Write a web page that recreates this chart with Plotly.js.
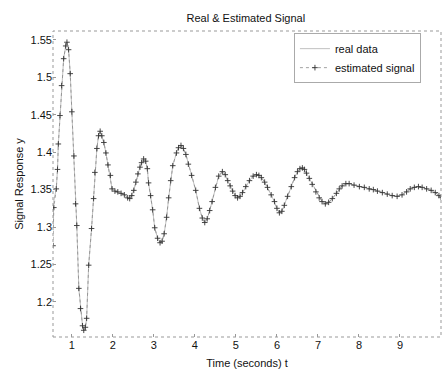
<!DOCTYPE html>
<html><head><meta charset="utf-8">
<script src="https://cdn.plot.ly/plotly-3.0.1.min.js"></script>
<style>html,body{margin:0;padding:0;background:#fff}#chart{width:443px;height:372px}</style>
</head><body><div id="chart"></div>
<script>
const time = [0.54,0.56,0.62,0.65,0.67,0.71,0.75,0.80,0.85,0.88,0.92,0.96,1.00,1.05,1.09,1.12,1.17,1.21,1.26,1.29,1.33,1.36,1.41,1.48,1.53,1.56,1.61,1.65,1.69,1.73,1.78,1.83,1.88,1.94,1.98,2.05,2.12,2.20,2.28,2.36,2.41,2.46,2.51,2.56,2.61,2.66,2.70,2.75,2.80,2.84,2.87,2.92,2.97,3.02,3.09,3.15,3.20,3.25,3.31,3.36,3.41,3.46,3.55,3.60,3.66,3.72,3.78,3.84,3.92,4.02,4.11,4.18,4.24,4.30,4.36,4.42,4.50,4.58,4.67,4.74,4.80,4.86,4.92,4.98,5.04,5.10,5.16,5.24,5.33,5.42,5.50,5.56,5.62,5.70,5.77,5.86,5.94,6.00,6.06,6.12,6.18,6.26,6.35,6.43,6.50,6.56,6.62,6.67,6.72,6.79,6.86,6.95,7.03,7.10,7.18,7.26,7.35,7.45,7.52,7.59,7.68,7.76,7.88,8.01,8.13,8.25,8.35,8.45,8.57,8.69,8.81,8.93,9.05,9.16,9.25,9.35,9.45,9.54,9.65,9.76,9.86,9.95,10.0];
const estimatedSignal = [1.275,1.326,1.351,1.377,1.411,1.449,1.489,1.525,1.542,1.547,1.537,1.505,1.454,1.395,1.331,1.302,1.218,1.191,1.168,1.162,1.166,1.178,1.249,1.298,1.338,1.373,1.405,1.422,1.428,1.422,1.413,1.399,1.383,1.369,1.351,1.348,1.347,1.345,1.343,1.339,1.338,1.342,1.349,1.360,1.371,1.380,1.386,1.391,1.388,1.378,1.359,1.342,1.323,1.299,1.285,1.279,1.281,1.291,1.313,1.339,1.362,1.382,1.399,1.406,1.409,1.405,1.397,1.384,1.369,1.349,1.325,1.312,1.306,1.311,1.322,1.334,1.353,1.368,1.374,1.370,1.362,1.355,1.348,1.342,1.339,1.341,1.346,1.354,1.362,1.368,1.370,1.369,1.366,1.360,1.353,1.343,1.334,1.325,1.319,1.321,1.329,1.341,1.354,1.366,1.374,1.378,1.379,1.377,1.372,1.365,1.357,1.347,1.339,1.334,1.331,1.333,1.338,1.345,1.351,1.355,1.358,1.358,1.356,1.354,1.353,1.351,1.350,1.348,1.346,1.344,1.342,1.341,1.343,1.347,1.351,1.353,1.354,1.353,1.351,1.349,1.346,1.342,1.340];
const realData = [1.300,1.335,1.351,1.377,1.411,1.449,1.489,1.525,1.542,1.547,1.537,1.505,1.454,1.395,1.331,1.302,1.218,1.191,1.168,1.162,1.166,1.178,1.249,1.298,1.338,1.373,1.405,1.422,1.428,1.422,1.413,1.399,1.383,1.369,1.351,1.348,1.347,1.345,1.343,1.339,1.338,1.342,1.349,1.360,1.371,1.380,1.386,1.391,1.388,1.378,1.359,1.342,1.323,1.299,1.285,1.279,1.281,1.291,1.313,1.339,1.362,1.382,1.399,1.406,1.409,1.405,1.397,1.384,1.369,1.349,1.325,1.312,1.306,1.311,1.322,1.334,1.353,1.368,1.374,1.370,1.362,1.355,1.348,1.342,1.339,1.341,1.346,1.354,1.362,1.368,1.370,1.369,1.366,1.360,1.353,1.343,1.334,1.325,1.319,1.321,1.329,1.341,1.354,1.366,1.374,1.378,1.379,1.377,1.372,1.365,1.357,1.347,1.339,1.334,1.331,1.333,1.338,1.345,1.351,1.355,1.358,1.358,1.356,1.354,1.353,1.351,1.350,1.348,1.346,1.344,1.342,1.341,1.343,1.347,1.351,1.353,1.354,1.353,1.351,1.349,1.346,1.342,1.340];
const xTicks = [1,2,3,4,5,6,7,8,9];
const yTicks = [1.2,1.25,1.3,1.35,1.4,1.45,1.5,1.55];
const yTickText = ['1.2','1.25','1.3','1.35','1.4','1.45','1.5','1.55'];

const font = {family: 'Liberation Sans, Arial, sans-serif', size: 11, color: '#111'};
const traces = [
  {x: time, y: realData, name: 'real data', type: 'scatter', mode: 'lines',
   line: {color: '#b0b0b0', width: 0.8}},
  {x: time, y: estimatedSignal, name: 'estimated signal', type: 'scatter', mode: 'lines+markers',
   line: {color: '#8a8a8a', width: 0.8, dash: 'dot'},
   marker: {symbol: 'cross-thin-open', size: 4, color: '#333', line: {width: 0.9, color: '#333'}}}
];
const layout = {
  width: 443, height: 372,
  margin: {l: 53, r: 2, t: 31, b: 35},
  paper_bgcolor: '#fff', plot_bgcolor: '#fff',
  font: font,
  title: {text: 'Real & Estimated Signal', font: {family: font.family, size: 11, color: '#111'}, x: 0.555, xanchor: 'center', y: 0.952, yanchor: 'middle'},
  showlegend: true,
  legend: {x: 0.621, y: 0.993, xanchor: 'left', yanchor: 'top', bgcolor: '#fff',
    bordercolor: '#aaa', borderwidth: 1, font: {family: font.family, size: 11, color: '#111'},
    tracegroupgap: 0, itemwidth: 30},
  xaxis: {range: [0.54, 10], tickvals: xTicks, ticktext: xTicks.map(String),
    showgrid: false, zeroline: false, showline: false, ticks: 'inside', ticklen: 3, tickcolor: '#999',
    title: {text: 'Time (seconds) t', font: {family: font.family, size: 11, color: '#111'}, standoff: 9},
    tickfont: font, automargin: false},
  yaxis: {range: [1.153, 1.562], tickvals: yTicks, ticktext: yTickText,
    showgrid: false, zeroline: false, showline: false, ticks: 'inside', ticklen: 3, tickcolor: '#999',
    title: {text: 'Signal Response y', font: {family: font.family, size: 11, color: '#111'}, standoff: 4},
    tickfont: font},
  shapes: [{type: 'rect', xref: 'paper', yref: 'paper', x0: 0, x1: 1, y0: 0, y1: 1,
    line: {color: '#999', width: 1, dash: 'dot'}}]
};
Plotly.newPlot('chart', traces, layout, {displayModeBar: false, staticPlot: true});
</script></body></html>
